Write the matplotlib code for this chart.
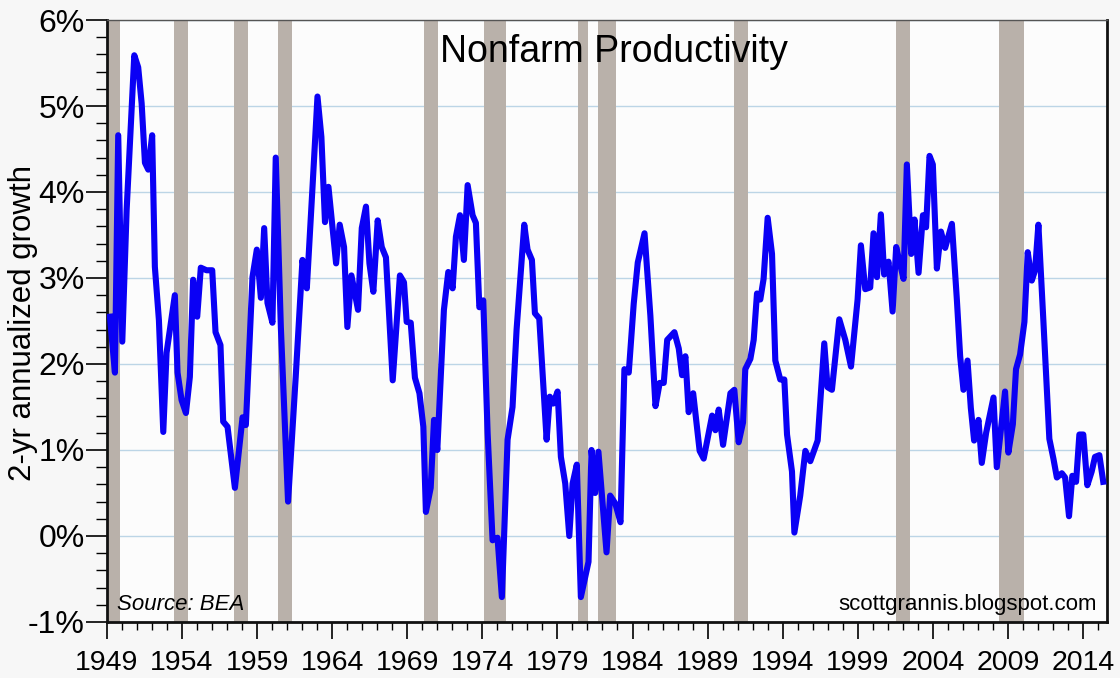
import numpy as np
import matplotlib
matplotlib.use("Agg")
import matplotlib.pyplot as plt
from matplotlib.ticker import MultipleLocator, FuncFormatter

# turning points of the series (year, % 2-yr annualized growth)
years = [1949.20, 1949.53, 1949.75, 1950.02, 1950.31, 1950.82, 1951.08, 1951.31, 1951.53, 1951.75,
         1952.01, 1952.19, 1952.46, 1952.75, 1952.97, 1953.52, 1953.70, 1953.97, 1954.26, 1954.52,
         1954.74, 1955.01, 1955.25, 1955.63, 1956.01, 1956.23, 1956.56, 1956.74, 1957.03, 1957.52,
         1958.03, 1958.25, 1958.69, 1958.98, 1959.25, 1959.47, 1959.69, 1960.02, 1960.24, 1960.58,
         1961.06, 1961.57, 1962.02, 1962.31, 1962.69, 1963.02, 1963.28, 1963.52, 1963.75, 1964.26,
         1964.50, 1964.79, 1965.01, 1965.28, 1965.72, 1965.97, 1966.25, 1966.48, 1966.74, 1967.03,
         1967.30, 1967.58, 1968.03, 1968.51, 1968.78, 1968.96, 1969.23, 1969.51, 1969.81, 1970.07,
         1970.24, 1970.56, 1970.78, 1971.00, 1971.44, 1971.73, 1972.02, 1972.24, 1972.51, 1972.77,
         1973.02, 1973.35, 1973.57, 1973.80, 1974.06, 1974.35, 1974.68, 1975.01, 1975.30, 1975.68,
         1976.01, 1976.28, 1976.79, 1977.01, 1977.30, 1977.50, 1977.79, 1978.28, 1978.49, 1978.72,
         1979.01, 1979.23, 1979.52, 1979.79, 1980.01, 1980.29, 1980.56, 1981.07, 1981.27, 1981.51,
         1981.73, 1982.27, 1982.51, 1982.85, 1983.20, 1983.46, 1983.75, 1984.08, 1984.35, 1984.80,
         1985.19, 1985.53, 1985.81, 1986.08, 1986.31, 1986.79, 1987.08, 1987.30, 1987.52, 1987.74,
         1988.04, 1988.47, 1988.74, 1989.30, 1989.52, 1989.74, 1990.03, 1990.52, 1990.78, 1991.07,
         1991.36, 1991.51, 1991.85, 1992.07, 1992.29, 1992.51, 1992.73, 1993.00, 1993.29, 1993.51,
         1993.84, 1994.11, 1994.29, 1994.62, 1994.78, 1995.17, 1995.51, 1995.84, 1996.33, 1996.77,
         1996.99, 1997.28, 1997.77, 1998.17, 1998.55, 1998.99, 1999.21, 1999.50, 1999.83, 2000.05,
         2000.28, 2000.54, 2000.76, 2001.05, 2001.32, 2001.56, 2001.78, 2002.05, 2002.27, 2002.56,
         2002.78, 2003.05, 2003.34, 2003.55, 2003.78, 2004.00, 2004.27, 2004.54, 2004.82, 2005.27,
         2005.60, 2005.82, 2006.04, 2006.31, 2006.53, 2006.75, 2007.04, 2007.26, 2007.55, 2008.04,
         2008.26, 2008.81, 2009.03, 2009.33, 2009.54, 2009.81, 2010.10, 2010.32, 2010.59, 2010.81,
         2011.03, 2011.36, 2011.76, 2012.03, 2012.26, 2012.59, 2012.81, 2013.07, 2013.29, 2013.54,
         2013.76, 2014.02, 2014.29, 2014.58, 2014.80, 2015.09, 2015.35]
growth = [2.55, 1.90, 4.66, 2.26, 3.79, 5.59, 5.45, 5.03, 4.34, 4.26,
          4.66, 3.13, 2.51, 1.21, 2.13, 2.80, 1.90, 1.58, 1.43, 1.85,
          2.98, 2.55, 3.12, 3.09, 3.09, 2.37, 2.22, 1.33, 1.27, 0.56,
          1.38, 1.29, 3.01, 3.33, 2.77, 3.58, 2.71, 2.48, 4.40, 2.43,
          0.40, 1.85, 3.21, 2.88, 4.06, 5.11, 4.64, 3.65, 4.06, 3.17,
          3.62, 3.36, 2.43, 3.03, 2.63, 3.58, 3.83, 3.17, 2.84, 3.67,
          3.36, 3.24, 1.81, 3.03, 2.95, 2.49, 2.48, 1.84, 1.66, 1.27,
          0.28, 0.56, 1.35, 1.00, 2.63, 3.07, 2.88, 3.48, 3.73, 3.21,
          4.08, 3.73, 3.64, 2.66, 2.74, 1.20, -0.05, -0.02, -0.71, 1.12,
          1.50, 2.40, 3.62, 3.33, 3.21, 2.59, 2.53, 1.12, 1.62, 1.54,
          1.68, 0.92, 0.61, 0.00, 0.61, 0.83, -0.71, -0.30, 1.00, 0.50,
          0.98, -0.19, 0.47, 0.38, 0.16, 1.94, 1.90, 2.70, 3.18, 3.52,
          2.56, 1.51, 1.78, 1.78, 2.28, 2.37, 2.18, 1.87, 2.09, 1.44,
          1.66, 0.99, 0.90, 1.40, 1.23, 1.47, 1.06, 1.66, 1.70, 1.09,
          1.32, 1.94, 2.06, 2.28, 2.82, 2.75, 2.99, 3.70, 3.28, 2.04,
          1.82, 1.82, 1.18, 0.75, 0.04, 0.47, 0.99, 0.87, 1.11, 2.24,
          1.73, 1.70, 2.52, 2.28, 1.97, 2.75, 3.38, 2.87, 2.89, 3.52,
          3.01, 3.74, 3.04, 3.19, 2.61, 3.36, 3.19, 2.99, 4.32, 3.28,
          3.68, 3.06, 3.73, 3.59, 4.42, 4.32, 3.11, 3.54, 3.35, 3.63,
          2.75, 2.09, 1.70, 2.04, 1.49, 1.11, 1.35, 0.85, 1.20, 1.61,
          0.80, 1.68, 0.97, 1.30, 1.94, 2.11, 2.49, 3.30, 2.97, 3.09,
          3.62, 2.51, 1.13, 0.90, 0.68, 0.73, 0.68, 0.23, 0.70, 0.63,
          1.18, 1.18, 0.59, 0.75, 0.92, 0.94, 0.63]

# recession bars as drawn on the chart
rec_start = [1948.90, 1953.48, 1957.47, 1960.40, 1970.11, 1974.10, 1980.36, 1981.69, 1990.74, 2001.56, 2008.43]
rec_end = [1949.90, 1954.41, 1958.40, 1961.35, 1971.04, 1975.55, 1981.02, 1982.91, 1991.67, 2002.45, 2010.08]

x_labels = list(range(1949, 2015, 5))
title = "Nonfarm Productivity"

fam = ['Liberation Sans', 'DejaVu Sans']
plt.rcParams['font.family'] = fam

fig = plt.figure(figsize=(11.2, 6.78), dpi=100, facecolor='#f7f7f7')
ax = fig.add_axes([0.0955, 0.0826, 0.8925, 0.8879])
ax.set_facecolor('#fcfcfc')

for s, e in zip(rec_start, rec_end):
    ax.axvspan(s, e, color='#b9b1aa', lw=0, zorder=1)

ax.yaxis.grid(True, which='major', color='#bcd5e6', lw=1.0, zorder=0)
ax.set_axisbelow(True)

ax.plot(years, growth, color='#0a00f5', lw=4.4, solid_joinstyle='round', zorder=3)

ax.set_xlim(1949, 2015.57)
ax.set_ylim(-1, 6)

ax.set_xticks(x_labels)
ax.set_xticklabels([str(y) for y in x_labels], fontsize=20.5)
ax.xaxis.set_minor_locator(MultipleLocator(1))
ax.yaxis.set_major_locator(MultipleLocator(1))
ax.yaxis.set_minor_locator(MultipleLocator(0.2))
ax.yaxis.set_major_formatter(FuncFormatter(lambda v, p: f"{v:.0f}%"))
ax.tick_params(axis='y', which='major', labelsize=23, length=15, width=1.2, direction='out', pad=1)
ax.tick_params(axis='y', which='minor', length=8, width=1, direction='out')
ax.tick_params(axis='x', which='major', length=12, width=1.2, direction='out', pad=8)
ax.tick_params(axis='x', which='minor', length=6, width=1, direction='out')

for side in ['left', 'bottom', 'right']:
    ax.spines[side].set_linewidth(2)
    ax.spines[side].set_color('#111111')
ax.spines['top'].set_linewidth(1)
ax.spines['top'].set_color('#555555')

ax.set_ylabel("2-yr annualized growth", fontsize=22.5)
ax.yaxis.set_label_coords(-0.069, 0.497)
ax.text(0.507, 0.977, title, transform=ax.transAxes, ha='center', va='top', fontsize=27)
ax.text(0.01, 0.012, "Source: BEA", transform=ax.transAxes, ha='left', va='bottom',
        fontsize=16, style='italic')
ax.text(0.99, 0.012, "scottgrannis.blogspot.com", transform=ax.transAxes, ha='right', va='bottom',
        fontsize=16)

fig.savefig("out.png", dpi=100, facecolor=fig.get_facecolor())
